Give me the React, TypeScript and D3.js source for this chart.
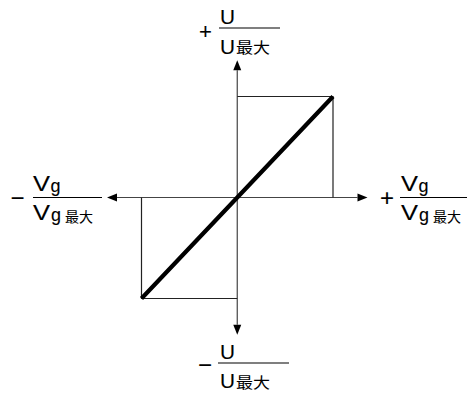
import React from "react";
import * as d3 from "d3";

// Normalised transfer characteristic: U/Umax versus Vg/Vgmax
const inputValues = [-1, 0, 1];
const outputValues = [-1, 0, 1];
// Limit boxes drawn in quadrants I and III
const limitCorners = [1, -1];
const axisExtent = 1.36;

const W = 467;
const H = 394;

export default function App() {
  const x = d3.scaleLinear().domain([-1, 1]).range([141.5, 333]);
  const y = d3.scaleLinear().domain([-1, 1]).range([298.5, 96.5]);

  const line = d3
    .line<number>()
    .x((_, i) => x(inputValues[i]))
    .y((_, i) => y(outputValues[i]));

  const x0 = x(0);
  const y0 = y(0);
  const xl = x(-axisExtent);
  const xr = x(axisExtent);
  const yt = y(axisExtent);
  const yb = y(-axisExtent);
  const aL = 10;
  const aW = 4;

  const font = "'Liberation Sans', Arial, sans-serif";
  const cjk = "'Noto Sans CJK SC', sans-serif";
  const sw = 0.12;

  return (
    <svg
      width={W}
      height={H}
      style={{ position: "absolute", left: 0, top: 0, background: "#fff" }}
    >
      {/* axes */}
      <g stroke="#444" strokeWidth={1.2}>
        <line x1={xl + aL} y1={y0} x2={xr - aL} y2={y0} />
        <line x1={x0} y1={yt + aL} x2={x0} y2={yb - aL} />
      </g>
      <g fill="#000">
        <path d={`M${xr},${y0}L${xr - aL},${y0 - aW}L${xr - aL},${y0 + aW}Z`} />
        <path d={`M${xl},${y0}L${xl + aL},${y0 - aW}L${xl + aL},${y0 + aW}Z`} />
        <path d={`M${x0},${yt}L${x0 - aW},${yt + aL}L${x0 + aW},${yt + aL}Z`} />
        <path d={`M${x0},${yb}L${x0 - aW},${yb - aL}L${x0 + aW},${yb - aL}Z`} />
      </g>

      {/* limit boxes */}
      <g stroke="#222" strokeWidth={1.2} fill="none">
        {limitCorners.map((c) => (
          <path
            key={c}
            d={`M${x(0)},${y(c)}L${x(c)},${y(c)}L${x(c)},${y(0)}`}
          />
        ))}
      </g>

      {/* characteristic */}
      <path
        d={line(inputValues) || ""}
        stroke="#000"
        strokeWidth={4.2}
        fill="none"
      />

      {/* top label */}
      <g fill="#000" stroke="#000" strokeWidth={sw} fontFamily={font}>
        <text x={205.5} y={39} fontSize={22} textAnchor="middle">+</text>
        <line x1={219} x2={280} y1={28} y2={28} strokeWidth={1.2} />
        <text x={220} y={24} fontSize={21} textLength={15} lengthAdjust="spacingAndGlyphs">U</text>
        <text x={220} y={53.5} fontSize={21} textLength={15} lengthAdjust="spacingAndGlyphs">U</text>
        <text x={236} y={53} fontSize={15} fontFamily={cjk} strokeWidth={0} textLength={34} lengthAdjust="spacingAndGlyphs">最大</text>
      </g>

      {/* bottom label */}
      <g fill="#000" stroke="#000" strokeWidth={sw} fontFamily={font}>
        <text x={205} y={373} fontSize={24} textAnchor="middle">−</text>
        <line x1={218} x2={289} y1={363} y2={363} strokeWidth={1.2} />
        <text x={220} y={358.5} fontSize={21} textLength={15} lengthAdjust="spacingAndGlyphs">U</text>
        <text x={220} y={387.5} fontSize={21} textLength={15} lengthAdjust="spacingAndGlyphs">U</text>
        <text x={236} y={387.5} fontSize={15} fontFamily={cjk} strokeWidth={0} textLength={34} lengthAdjust="spacingAndGlyphs">最大</text>
      </g>

      {/* left label */}
      <g fill="#000" stroke="#000" strokeWidth={sw} fontFamily={font}>
        <text x={17.5} y={206} fontSize={24} textAnchor="middle">−</text>
        <line x1={33} x2={102} y1={197.5} y2={197.5} strokeWidth={1.2} />
        <text x={33} y={191} fontSize={22} textLength={17} lengthAdjust="spacingAndGlyphs">V</text>
        <text x={50.5} y={192} fontSize={18} textLength={10} lengthAdjust="spacingAndGlyphs">g</text>
        <text x={33} y={219.5} fontSize={22} textLength={17} lengthAdjust="spacingAndGlyphs">V</text>
        <text x={51} y={220.5} fontSize={18} textLength={10} lengthAdjust="spacingAndGlyphs">g</text>
        <text x={65} y={222} fontSize={14} fontFamily={cjk} strokeWidth={0} textLength={28} lengthAdjust="spacingAndGlyphs">最大</text>
      </g>

      {/* right label */}
      <g fill="#000" stroke="#000" strokeWidth={sw} fontFamily={font}>
        <text x={387} y={206} fontSize={24} textAnchor="middle">+</text>
        <line x1={400} x2={467} y1={197.5} y2={197.5} strokeWidth={1.2} />
        <text x={401} y={191} fontSize={22} textLength={17} lengthAdjust="spacingAndGlyphs">V</text>
        <text x={418.5} y={192} fontSize={18} textLength={10} lengthAdjust="spacingAndGlyphs">g</text>
        <text x={401} y={219.5} fontSize={22} textLength={17} lengthAdjust="spacingAndGlyphs">V</text>
        <text x={419} y={220.5} fontSize={18} textLength={10} lengthAdjust="spacingAndGlyphs">g</text>
        <text x={433} y={222} fontSize={14} fontFamily={cjk} strokeWidth={0} textLength={28} lengthAdjust="spacingAndGlyphs">最大</text>
      </g>
    </svg>
  );
}
